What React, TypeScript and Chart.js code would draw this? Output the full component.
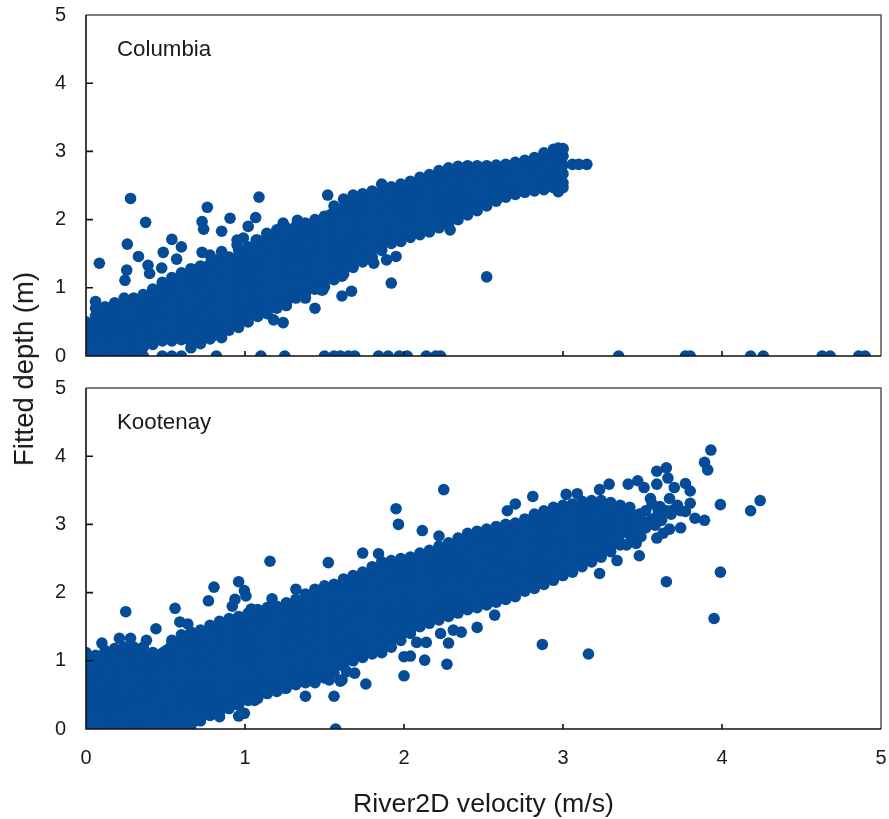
import React, { useEffect, useRef } from "react";
import { Chart, registerables } from "chart.js";

Chart.register(...registerables);

const axisTicks = [0, 1, 2, 3, 4, 5];
const panelNames = ["Columbia", "Kootenay"];
const xTitle = "River2D velocity (m/s)";
const yTitle = "Fitted depth (m)";

// Each row: x value, then the depths estimated at that velocity.
const columbiaCloud: number[][] = [
  [0, 0, .13, .26, .39, .5],
  [.06, .07, .2, .33, .46, .59, .7, .8],
  [.12, 0, .13, .26, .39, .52, .65, .72],
  [.18, .07, .2, .33, .46, .59, .72, .78],
  [.24, 0, .13, .26, .39, .52, .65, .78, .85],
  [.3, .07, .2, .33, .46, .59, .72, .85],
  [.36, 0, .13, .26, .39, .52, .65, .78, .9],
  [.42, .17, .33, .46, .59, .72, .85, .98],
  [.48, 0, .22, .26, .39, .52, .65, .78, .91, 1.04, 1.08],
  [.54, 0, .22, .33, .46, .59, .72, .85, .98, 1.11, 1.15],
  [.6, 0, .24, .39, .52, .65, .78, .91, 1.04, 1.17, 1.22],
  [.66, .12, .2, .33, .46, .59, .72, .85, .98, 1.11, 1.24, 1.28],
  [.72, .18, .26, .39, .52, .65, .78, .91, 1.04, 1.17, 1.3, 1.32],
  [.78, .25, .33, .46, .59, .72, .85, .98, 1.11, 1.24, 1.35],
  [.84, .32, .39, .52, .65, .78, .91, 1.04, 1.17, 1.3, 1.42],
  [.9, .38, .46, .59, .72, .85, .98, 1.11, 1.24, 1.37, 1.45],
  [.96, .42, .52, .65, .78, .91, 1.04, 1.17, 1.3, 1.43, 1.55],
  [1.02, .5, .59, .72, .85, .98, 1.11, 1.24, 1.37, 1.5, 1.6],
  [1.08, .58, .65, .78, .91, 1.04, 1.17, 1.3, 1.43, 1.56, 1.7],
  [1.14, .62, .72, .85, .98, 1.11, 1.24, 1.37, 1.5, 1.63, 1.78],
  [1.2, .7, .78, .91, 1.04, 1.17, 1.3, 1.43, 1.56, 1.69, 1.85],
  [1.26, .78, .85, .98, 1.11, 1.24, 1.37, 1.5, 1.63, 1.76, 1.88],
  [1.32, .85, .91, 1.04, 1.17, 1.3, 1.43, 1.56, 1.69, 1.82, 1.9],
  [1.38, .92, .98, 1.11, 1.24, 1.37, 1.5, 1.63, 1.76, 1.89, 1.95],
  [1.44, .98, 1.04, 1.17, 1.3, 1.43, 1.56, 1.69, 1.82, 1.95, 2.0],
  [1.5, 1.02, 1.11, 1.24, 1.37, 1.5, 1.63, 1.76, 1.89, 2.05],
  [1.56, 1.12, 1.17, 1.3, 1.43, 1.56, 1.69, 1.82, 1.95, 2.08, 2.2],
  [1.62, 1.2, 1.24, 1.37, 1.5, 1.63, 1.76, 1.89, 2.02, 2.15, 2.3],
  [1.68, 1.3, 1.43, 1.56, 1.69, 1.82, 1.95, 2.08, 2.21, 2.36],
  [1.74, 1.38, 1.5, 1.63, 1.76, 1.89, 2.02, 2.15, 2.28, 2.38],
  [1.8, 1.45, 1.56, 1.69, 1.82, 1.95, 2.08, 2.21, 2.34, 2.42],
  [1.86, 1.55, 1.63, 1.76, 1.89, 2.02, 2.15, 2.28, 2.41, 2.52],
  [1.92, 1.65, 1.69, 1.82, 1.95, 2.08, 2.21, 2.34, 2.48],
  [1.98, 1.68, 1.76, 1.89, 2.02, 2.15, 2.28, 2.41, 2.52],
  [2.04, 1.74, 1.82, 1.95, 2.08, 2.21, 2.34, 2.47, 2.56],
  [2.1, 1.78, 1.89, 2.02, 2.15, 2.28, 2.41, 2.54, 2.62],
  [2.16, 1.82, 1.95, 2.08, 2.21, 2.34, 2.47, 2.6, 2.66],
  [2.22, 1.88, 2.02, 2.15, 2.28, 2.41, 2.54, 2.67, 2.72],
  [2.28, 1.93, 2.08, 2.21, 2.34, 2.47, 2.6, 2.73, 2.76],
  [2.34, 2.0, 2.15, 2.28, 2.41, 2.54, 2.67, 2.78],
  [2.4, 2.07, 2.21, 2.34, 2.47, 2.6, 2.73, 2.79],
  [2.46, 2.13, 2.28, 2.41, 2.54, 2.67, 2.79],
  [2.52, 2.2, 2.34, 2.47, 2.6, 2.73, 2.79],
  [2.58, 2.27, 2.41, 2.54, 2.67, 2.8],
  [2.64, 2.33, 2.47, 2.6, 2.73, 2.81],
  [2.7, 2.37, 2.54, 2.67, 2.84],
  [2.76, 2.4, 2.6, 2.73, 2.87],
  [2.82, 2.42, 2.6, 2.73, 2.91],
  [2.88, 2.44, 2.54, 2.67, 2.8, 2.98],
  [2.94, 2.47, 2.54, 2.67, 2.8, 2.93, 3.03],
  [3.0, 2.47, 2.54, 2.67, 2.8, 2.93, 3.03],
];

const columbiaX = [
  .084, .28, .375, .26, .33, .256, .245, .39, .4, .486, .54, .6, .57, .476, .763, .73, .74, .73, .78, .853, .906, .853,
  1.02, 1.067, 1.088, .95, .95, .99, 1.07, 1.137, 1.24, 1.33, 1.52, .853, .8, 1.18, 1.24, 1.26, 1.44, 1.38, 1.48,
  1.53, 1.49, 1.61, 1.67, 1.61, 1.92, 1.95, 1.89, 1.81, 2.52, 3.15, 3.06, 2.29, 2.97, 3.0, 2.97, 3.1,
  .82, 1.1, 1.25, 1.5, 1.56, 1.6, 1.65, 1.69, 1.84, 1.9, 1.97, 2.02, 2.14, 2.2, 2.23,
  3.35, 3.77, 3.8, 4.18, 4.26, 4.63, 4.68, 4.86, 4.9,
];
const columbiaY = [
  1.36, 2.31, 1.96, 1.64, 1.46, 1.26, 1.11, 1.33, 1.21, 1.52, 1.71, 1.6, 1.42, 1.29, 2.18, 1.97, 1.86, 1.52, 1.48, 1.83, 2.02, 1.53,
  1.9, 2.03, 2.33, 1.7, 1.63, 1.73, 1.7, 1.8, 1.95, 1.99, 2.36, .27, .3, .53, .49, .74, .7, .85, .97,
  1.14, .97, .88, .95, 1.17, 1.07, 1.46, 1.41, 1.36, 1.16, 2.81, 2.81, 1.85, 3.05, 3.04, 2.41, 2.81,
  0, 0, 0, 0, 0, 0, 0, 0, 0, 0, 0, 0, 0, 0, 0,
  0, 0, 0, 0, 0, 0, 0, 0, 0,
];

// Limits of the saturated core of each cloud, where single dots cannot be told apart.
const columbiaCoreX = [0, .12, .3, .48, .66, .84, 1.02, 1.2, 1.38, 1.56, 1.74, 1.92, 2.1, 2.28, 2.46, 2.64, 2.82, 3.0];
const columbiaCoreLow = [0, 0, 0, .24, .2, .36, .54, .74, .96, 1.14, 1.4, 1.67, 1.8, 1.95, 2.15, 2.35, 2.44, 2.49];
const columbiaCoreHigh = [.5, .72, .85, 1.08, 1.28, 1.42, 1.6, 1.85, 1.95, 2.2, 2.38, 2.48, 2.62, 2.76, 2.79, 2.81, 2.91, 3.03];

const kootenayCloud: number[][] = [
  [0, 0, .13, .26, .39, .52, .65, .78, .91, 1.04, 1.12],
  [.06, .07, .2, .33, .46, .59, .72, .85, .98, 1.08],
  [.12, 0, .13, .26, .39, .52, .65, .78, .91, 1.04, 1.15],
  [.18, .07, .2, .33, .46, .59, .72, .85, .98, 1.11, 1.18],
  [.24, 0, .13, .26, .39, .52, .65, .78, .91, 1.04, 1.2],
  [.3, .07, .2, .33, .46, .59, .72, .85, .98, 1.11, 1.2],
  [.36, 0, .13, .26, .39, .52, .65, .78, .91, 1.04, 1.2],
  [.42, .07, .2, .33, .46, .59, .72, .85, .98, 1.12],
  [.48, 0, .13, .26, .39, .52, .65, .78, .91, 1.04, 1.1],
  [.54, .07, .2, .33, .46, .59, .72, .85, .98, 1.11, 1.24, 1.3],
  [.6, 0, .13, .26, .39, .52, .65, .78, .91, 1.04, 1.17, 1.3, 1.38],
  [.66, .05, .2, .33, .46, .59, .72, .85, .98, 1.11, 1.24, 1.37, 1.42],
  [.72, .12, .26, .39, .52, .65, .78, .91, 1.04, 1.17, 1.3, 1.45],
  [.78, .2, .33, .46, .59, .72, .85, .98, 1.11, 1.24, 1.37, 1.52],
  [.84, .25, .39, .52, .65, .78, .91, 1.04, 1.17, 1.3, 1.43, 1.58],
  [.9, .3, .46, .59, .72, .85, .98, 1.11, 1.24, 1.37, 1.5, 1.62],
  [.96, .35, .52, .65, .78, .91, 1.04, 1.17, 1.3, 1.43, 1.56, 1.65],
  [1.02, .42, .59, .72, .85, .98, 1.11, 1.24, 1.37, 1.5, 1.63, 1.7],
  [1.08, .45, .52, .65, .78, .91, 1.04, 1.17, 1.3, 1.43, 1.56, 1.69, 1.75],
  [1.14, .52, .59, .72, .85, .98, 1.11, 1.24, 1.37, 1.5, 1.63, 1.78],
  [1.2, .55, .65, .78, .91, 1.04, 1.17, 1.3, 1.43, 1.56, 1.69, 1.8],
  [1.26, .6, .72, .85, .98, 1.11, 1.24, 1.37, 1.5, 1.63, 1.76, 1.85],
  [1.32, .65, .78, .91, 1.04, 1.17, 1.3, 1.43, 1.56, 1.69, 1.82, 1.9],
  [1.38, .68, .85, .98, 1.11, 1.24, 1.37, 1.5, 1.63, 1.76, 1.89, 1.98],
  [1.44, .7, .78, .91, 1.04, 1.17, 1.3, 1.43, 1.56, 1.69, 1.82, 1.95, 2.05],
  [1.5, .75, .85, .98, 1.11, 1.24, 1.37, 1.5, 1.63, 1.76, 1.89, 2.02, 2.1],
  [1.56, .82, .91, 1.04, 1.17, 1.3, 1.43, 1.56, 1.69, 1.82, 1.95, 2.12],
  [1.62, .92, .98, 1.11, 1.24, 1.37, 1.5, 1.63, 1.76, 1.89, 2.02, 2.2],
  [1.68, 1.0, 1.04, 1.17, 1.3, 1.43, 1.56, 1.69, 1.82, 1.95, 2.08, 2.25],
  [1.74, 1.05, 1.11, 1.24, 1.37, 1.5, 1.63, 1.76, 1.89, 2.02, 2.15, 2.3],
  [1.8, 1.1, 1.17, 1.3, 1.43, 1.56, 1.69, 1.82, 1.95, 2.08, 2.21, 2.38],
  [1.86, 1.12, 1.24, 1.37, 1.5, 1.63, 1.76, 1.89, 2.02, 2.15, 2.28, 2.45],
  [1.92, 1.2, 1.3, 1.43, 1.56, 1.69, 1.82, 1.95, 2.08, 2.21, 2.34, 2.47],
  [1.98, 1.3, 1.37, 1.5, 1.63, 1.76, 1.89, 2.02, 2.15, 2.28, 2.41, 2.5],
  [2.04, 1.4, 1.43, 1.56, 1.69, 1.82, 1.95, 2.08, 2.21, 2.34, 2.52],
  [2.1, 1.5, 1.63, 1.76, 1.89, 2.02, 2.15, 2.28, 2.41, 2.58],
  [2.16, 1.55, 1.69, 1.82, 1.95, 2.08, 2.21, 2.34, 2.47, 2.62],
  [2.22, 1.6, 1.76, 1.89, 2.02, 2.15, 2.28, 2.41, 2.54, 2.68],
  [2.28, 1.65, 1.82, 1.95, 2.08, 2.21, 2.34, 2.47, 2.6, 2.73],
  [2.34, 1.7, 1.89, 2.02, 2.15, 2.28, 2.41, 2.54, 2.67, 2.8],
  [2.4, 1.75, 1.95, 2.08, 2.21, 2.34, 2.47, 2.6, 2.73, 2.87],
  [2.46, 1.78, 1.89, 2.02, 2.15, 2.28, 2.41, 2.54, 2.67, 2.8, 2.9],
  [2.52, 1.82, 1.95, 2.08, 2.21, 2.34, 2.47, 2.6, 2.73, 2.86, 2.93],
  [2.58, 1.86, 2.02, 2.15, 2.28, 2.41, 2.54, 2.67, 2.8, 2.97],
  [2.64, 1.9, 2.08, 2.21, 2.34, 2.47, 2.6, 2.73, 2.86, 3.0],
  [2.7, 1.94, 2.15, 2.28, 2.41, 2.54, 2.67, 2.8, 2.93, 3.02],
  [2.76, 2.02, 2.21, 2.34, 2.47, 2.6, 2.73, 2.86, 2.99, 3.08],
  [2.82, 2.06, 2.28, 2.41, 2.54, 2.67, 2.8, 2.93, 3.06, 3.15],
  [2.88, 2.12, 2.34, 2.47, 2.6, 2.73, 2.86, 2.99, 3.12, 3.2],
  [2.94, 2.18, 2.28, 2.41, 2.54, 2.67, 2.8, 2.93, 3.06, 3.19, 3.25],
  [3.0, 2.25, 2.34, 2.47, 2.6, 2.73, 2.86, 2.99, 3.12, 3.28],
  [3.06, 2.3, 2.41, 2.54, 2.67, 2.8, 2.93, 3.06, 3.19, 3.3],
  [3.12, 2.38, 2.47, 2.6, 2.73, 2.86, 2.99, 3.12, 3.25, 3.34],
  [3.18, 2.45, 2.54, 2.67, 2.8, 2.93, 3.06, 3.19, 3.35],
  [3.24, 2.52, 2.6, 2.73, 2.86, 2.99, 3.12, 3.25, 3.35],
  [3.3, 2.6, 2.67, 2.8, 2.93, 3.06, 3.19, 3.32],
  [3.36, 2.7, 2.73, 2.86, 2.99, 3.12, 3.28],
  [3.42, 2.85, 2.93, 3.06, 3.19, 3.25],
  [3.48, 3.0, 3.12, 3.15],
];

const kootenayX = [
  .25, .44, .56, .59, .64, .77, .805, .92, .937, .96, .996, 1.006, 1.04, 1.157, 1.17, 1.524, 1.32, .1, .21, .28, .38,
  .84, .96, .996, .7, 1.38, 1.56, 1.57, 1.06, 1.25, 1.31, 1.44, 1.53, 1.6,
  1.74, 1.84, 1.95, 1.965, 2.115, 2.22, 2.25, 2.65, 2.7, 2.81, 3.02, 3.09, 3.23, 3.29, 3.41, 3.47, 3.51, 3.59, 3.65, 3.66, 3.59,
  3.7, 3.77, 3.8, 3.93, 3.89, 3.91, 3.99, 4.18, 4.24, 3.89, 3.83, 3.74, 3.67, 3.63, 3.59, 3.58, 3.55, 3.67, 3.8, 3.77, 3.69, 3.61, 3.59,
  3.48, 3.46, 3.49, 3.34, 3.23, 3.65, 3.99, 3.95, 2.87, 3.16,
  2.46, 2.36, 2.31, 2.23, 2.14, 2.08, 2.28, 2.27, 2.13, 2.04, 2.0, 2.0, 1.76, 1.69, 1.64, 1.61, 2.57,
  3.52, 3.56, 3.6, 3.65, 3.72, 3.74, 3.56, 3.62, 3.68, 3.5, 3.52, 3.47, 3.4, 3.44,
];
const kootenayY = [
  1.72, 1.47, 1.77, 1.57, 1.54, 1.88, 2.08, 1.8, 1.9, 2.16, 2.03, 1.95, 1.76, 2.46, 1.91, 2.44, 2.05, 1.26, 1.33, 1.33, 1.3,
  .18, .19, .23, .13, .48, .48, 0, .42, .6, .68, .68, .72, .7,
  2.58, 2.57, 3.23, 3.0, 2.91, 2.83, 3.51, 3.2, 3.3, 3.41, 3.44, 3.45, 3.51, 3.59, 3.59, 3.64, 3.54, 3.78, 3.83, 3.68, 3.59,
  3.54, 3.6, 3.49, 4.09, 3.91, 3.8, 3.29, 3.2, 3.35, 3.06, 3.09, 2.95, 2.93, 2.87, 2.8, 2.99, 3.38, 3.38, 3.31, 3.19, 3.21, 3.26, 3.11,
  2.54, 2.72, 2.82, 2.47, 2.28, 2.16, 2.3, 1.62, 1.24, 1.1,
  1.49, 1.42, 1.45, 1.4, 1.27, 1.27, 1.26, .95, 1.01, 1.07, 1.06, .78, .66, .82, .84, .72, 1.67,
  3.2, 3.3, 3.2, 3.2, 3.28, 3.2, 3.08, 3.06, 3.15, 3.05, 2.95, 2.9, 2.7, 2.8,
];

const kootenayCoreX = [0, .12, .3, .42, .54, .72, .9, 1.08, 1.26, 1.44, 1.62, 1.8, 1.98, 2.16, 2.34, 2.52, 2.7, 2.88, 3.06, 3.24, 3.42];
const kootenayCoreLow = [0, 0, 0, 0, 0, .14, .32, .47, .62, .72, .94, 1.12, 1.32, 1.57, 1.72, 1.84, 1.96, 2.14, 2.32, 2.54, 2.87];
const kootenayCoreHigh = [1.12, 1.15, 1.2, 1.12, 1.3, 1.45, 1.62, 1.75, 1.85, 2.05, 2.2, 2.38, 2.5, 2.62, 2.8, 2.93, 3.02, 3.2, 3.3, 3.35, 3.25];

const dotColor = "#044C97";
const inkColor = "#1a1a1a";
const fontFamily = "'Liberation Sans', Arial, sans-serif";

function toPoints(cloud: number[][], xs: number[], ys: number[]) {
  const pts: { x: number; y: number }[] = [];
  cloud.forEach(([x, ...depths]) => depths.forEach((y) => pts.push({ x, y })));
  xs.forEach((x, i) => pts.push({ x, y: ys[i] }));
  return pts;
}

const zipCore = (xs: number[], ys: number[]) => xs.map((x, i) => ({ x, y: ys[i] }));

function makeChart(
  canvas: HTMLCanvasElement,
  name: string,
  pts: { x: number; y: number }[],
  coreLow: { x: number; y: number }[],
  coreHigh: { x: number; y: number }[],
  showX: boolean,
) {
  const frame = {
    id: "frame",
    afterDatasetsDraw(chart: any) {
      const { ctx, chartArea: a, scales } = chart;
      ctx.save();
      ctx.strokeStyle = "#555";
      ctx.lineWidth = 1.5;
      ctx.beginPath();
      ctx.moveTo(a.left, a.top);
      ctx.lineTo(a.right, a.top);
      ctx.lineTo(a.right, a.bottom);
      ctx.stroke();
      ctx.strokeStyle = "#111";
      ctx.lineWidth = 1.6;
      ctx.beginPath();
      ctx.moveTo(a.left, a.top);
      ctx.lineTo(a.left, a.bottom);
      ctx.lineTo(a.right, a.bottom);
      axisTicks.slice(1, 5).forEach((t) => {
        const px = scales.x.getPixelForValue(t);
        ctx.moveTo(px, a.bottom);
        ctx.lineTo(px, a.bottom - 5);
        const py = scales.y.getPixelForValue(t);
        ctx.moveTo(a.left, py);
        ctx.lineTo(a.left + 7, py);
      });
      ctx.stroke();
      ctx.fillStyle = inkColor;
      ctx.font = `22.3px ${fontFamily}`;
      ctx.textAlign = "left";
      ctx.textBaseline = "middle";
      ctx.fillText(name, a.left + 31, a.top + 35);
      ctx.restore();
    },
  };
  const zeroPad = (s: any) => {
    s.paddingTop = 0;
    s.paddingBottom = 0;
    s.paddingLeft = 0;
    s.paddingRight = 0;
  };
  return new Chart(canvas, {
    type: "scatter",
    data: {
      datasets: [
        {
          label: name,
          data: pts,
          backgroundColor: dotColor,
          borderColor: dotColor,
          pointRadius: 5.8,
          pointBorderWidth: 0,
          clip: 0,
        } as any,
        {
          label: name + " core low",
          data: coreLow,
          showLine: true,
          pointRadius: 0,
          borderWidth: 0,
          borderColor: "transparent",
          backgroundColor: dotColor,
          fill: "+1",
          clip: 0,
        } as any,
        {
          label: name + " core high",
          data: coreHigh,
          showLine: true,
          pointRadius: 0,
          borderWidth: 0,
          borderColor: "transparent",
          fill: false,
          clip: 0,
        } as any,
      ],
    },
    plugins: [frame],
    options: {
      animation: false,
      responsive: false,
      layout: { padding: { top: 15, right: 8, left: 0, bottom: 0 } },
      plugins: { legend: { display: false }, tooltip: { enabled: false }, title: { display: false } },
      scales: {
        x: {
          type: "linear",
          min: 0,
          max: 5,
          afterBuildTicks: (s: any) => {
            s.ticks = axisTicks.map((value) => ({ value }));
          },
          afterFit: (s: any) => {
            s.height = showX ? 92 : 26;
            zeroPad(s);
          },
          grid: { display: false, drawTicks: false },
          border: { display: false },
          ticks: {
            display: showX,
            padding: 17,
            color: inkColor,
            font: { size: 20, family: fontFamily },
            maxRotation: 0,
          },
          title: {
            display: showX,
            text: xTitle,
            color: inkColor,
            font: { size: 26.7, family: fontFamily },
            padding: { top: 0, bottom: 0 },
          },
        },
        y: {
          type: "linear",
          min: 0,
          max: 5,
          afterBuildTicks: (s: any) => {
            s.ticks = axisTicks.map((value) => ({ value }));
          },
          afterFit: (s: any) => {
            s.width = 86;
            zeroPad(s);
          },
          grid: { display: false, drawTicks: false },
          border: { display: false },
          ticks: { padding: 20, color: inkColor, font: { size: 20, family: fontFamily } },
        },
      },
    } as any,
  });
}

export default function App() {
  const topRef = useRef<HTMLCanvasElement>(null);
  const botRef = useRef<HTMLCanvasElement>(null);
  useEffect(() => {
    const a = makeChart(
      topRef.current!,
      panelNames[0],
      toPoints(columbiaCloud, columbiaX, columbiaY),
      zipCore(columbiaCoreX, columbiaCoreLow),
      zipCore(columbiaCoreX, columbiaCoreHigh),
      false,
    );
    const b = makeChart(
      botRef.current!,
      panelNames[1],
      toPoints(kootenayCloud, kootenayX, kootenayY),
      zipCore(kootenayCoreX, kootenayCoreLow),
      zipCore(kootenayCoreX, kootenayCoreHigh),
      true,
    );
    return () => {
      a.destroy();
      b.destroy();
    };
  }, []);
  return (
    <div style={{ position: "absolute", left: 0, top: 0, width: 889, height: 819, background: "#fff", overflow: "hidden" }}>
      <canvas ref={topRef} width={889} height={382} style={{ position: "absolute", left: 0, top: 0 }} />
      <canvas ref={botRef} width={889} height={448} style={{ position: "absolute", left: 0, top: 373 }} />
      <div
        style={{
          position: "absolute",
          left: 24,
          top: 369,
          transform: "translate(-50%,-50%) rotate(-90deg)",
          whiteSpace: "nowrap",
          font: `27.5px ${fontFamily}`,
          color: inkColor,
        }}
      >
        {yTitle}
      </div>
    </div>
  );
}
